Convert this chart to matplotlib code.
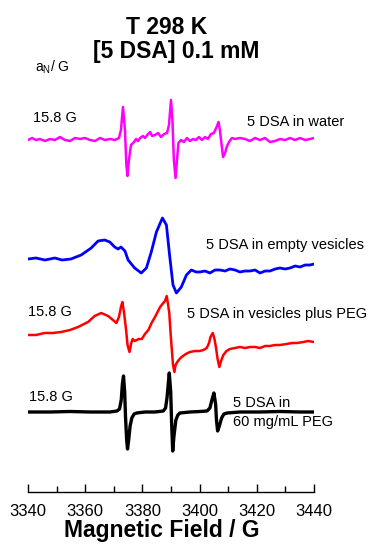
#EPR spectra of 5 DSA at 298 K

#Importing_Libraries
import numpy as np
import matplotlib
matplotlib.use('Agg')
import matplotlib.pyplot as plt

plt.rcParams['font.family'] = ['Liberation Sans', 'DejaVu Sans']
plt.rcParams['mathtext.fontset'] = 'custom'
plt.rcParams['mathtext.rm'] = 'Liberation Sans'

#Spectra (field in G, first-derivative signal in arbitrary units)
water_field = [3340.0, 3341.4, 3342.8, 3344.2, 3345.9, 3347.7, 3349.4, 3351.2, 3352.9, 3354.7,
               3356.4, 3358.2, 3359.9, 3361.7, 3363.4, 3365.2, 3366.9, 3368.7, 3370.4, 3371.8,
               3372.5, 3373.2, 3373.9, 3374.4, 3374.8, 3375.3, 3376.0, 3377.1, 3377.8, 3378.5,
               3379.2, 3380.2, 3380.9, 3382.0, 3382.7, 3383.4, 3384.4, 3385.5, 3386.5, 3387.6,
               3388.6, 3389.3, 3390.0, 3390.5, 3391.0, 3391.6, 3392.1, 3392.6, 3393.5, 3394.5,
               3395.6, 3396.6, 3397.7, 3398.7, 3399.8, 3400.8, 3401.9, 3402.9, 3404.0, 3405.0,
               3406.1, 3406.6, 3407.1, 3407.7, 3408.2, 3408.9, 3409.6, 3410.3, 3411.3, 3412.4,
               3414.1, 3415.9, 3417.6, 3419.4, 3421.1, 3422.9, 3424.6, 3426.4, 3428.1, 3429.9,
               3431.6, 3433.4, 3435.1, 3436.9, 3438.6, 3440.0]
water_signal = [-1, 1, -1, 0, -2, 0, -1, 2, -1, -2,
                1, 0, 1, -1, -2, 1, -1, 0, -1, 1,
                9, 32, 9, -26, -37, -21, -6, -3, 0, -2,
                1, 3, 1, 5, 7, 3, 4, 6, 2, 5,
                6, 14, 39, 19, -21, -39, -21, -4, -1, -3,
                1, -2, 0, -1, 2, -1, 2, 0, 5, 6,
                13, 17, 9, -6, -18, -14, -7, -3, 1, 0,
                1, 0, -2, 1, -1, 1, -3, -2, 0, -1,
                1, -1, 1, -1, 0, 1]

empty_field = [3340.0, 3342.8, 3345.9, 3349.4, 3351.9, 3355.0, 3358.6, 3362.1, 3364.5, 3366.8,
               3368.6, 3370.3, 3371.5, 3372.5, 3373.9, 3375.0, 3377.3, 3379.6, 3381.4, 3383.1,
               3384.9, 3387.0, 3388.4, 3389.5, 3390.7, 3391.9, 3393.6, 3395.4, 3397.1, 3398.8,
               3400.1, 3401.9, 3403.6, 3405.4, 3407.1, 3408.9, 3410.6, 3412.4, 3414.1, 3415.9,
               3417.6, 3419.4, 3421.1, 3422.9, 3424.6, 3426.4, 3428.1, 3429.9, 3431.6, 3433.4,
               3435.1, 3436.9, 3438.6, 3440.0]
empty_signal = [0, 1, -1, 1, -1, 0, 4, 11, 18, 19,
                17, 12, 10, 12, 8, -1, -9, -14, -9, 7,
                27, 41, 34, 4, -26, -34, -28, -16, -11, -13,
                -13, -12, -14, -11, -11, -12, -10, -11, -13, -12,
                -12, -11, -14, -12, -12, -10, -9, -10, -9, -7,
                -8, -6, -6, -5]

peg_field = [3340.0, 3342.8, 3345.8, 3348.7, 3351.6, 3354.7, 3357.5, 3361.0, 3363.3, 3365.6,
             3368.0, 3369.7, 3370.9, 3371.8, 3372.5, 3373.0, 3373.6, 3374.3, 3374.8, 3375.5,
             3376.1, 3376.6, 3377.3, 3378.0, 3378.8, 3379.8, 3380.9, 3382.1, 3383.2, 3384.4,
             3386.2, 3387.3, 3387.9, 3388.5, 3389.0, 3389.4, 3389.9, 3390.3, 3390.7, 3391.2,
             3391.6, 3392.2, 3393.0, 3393.7, 3395.2, 3396.6, 3398.4, 3400.1, 3401.3, 3402.5,
             3403.3, 3403.8, 3404.6, 3405.2, 3405.7, 3406.3, 3406.9, 3407.5, 3408.3, 3409.4,
             3410.6, 3412.4, 3414.1, 3415.9, 3417.6, 3419.4, 3421.1, 3422.9, 3424.6, 3426.4,
             3428.1, 3430.4, 3432.3, 3434.1, 3436.3, 3437.9, 3440.0]
peg_signal = [0, 0, 2, 2, 3, 5, 8, 13, 19, 22,
              19, 15, 12, 18, 28, 33, 22, 5, -10, -17,
              -8, -4, -6, -5, -4, -4, 1, 5, 12, 18,
              28, 32, 34, 39, 30, 22, 0, -15, -30, -37,
              -30, -27, -24, -22, -19, -17, -16, -16, -15, -13,
              -8, -2, 2, -4, -12, -24, -32, -26, -20, -16,
              -14, -13, -12, -13, -12, -12, -13, -11, -11, -10,
              -10, -9, -8, -8, -7, -6, -7]

sol_field = [3340.0, 3347.7, 3354.7, 3361.7, 3368.7, 3371.1, 3372.0, 3372.6, 3373.0, 3373.4,
             3373.8, 3374.1, 3374.5, 3374.8, 3375.2, 3375.7, 3376.3, 3377.1, 3378.0, 3380.9,
             3384.4, 3387.3, 3388.1, 3388.6, 3389.1, 3389.4, 3389.9, 3390.2, 3390.6, 3391.0,
             3391.7, 3392.4, 3393.1, 3396.6, 3400.1, 3402.6, 3403.6, 3404.3, 3405.0, 3405.6,
             3405.9, 3406.3, 3406.9, 3407.7, 3408.5, 3409.6, 3414.1, 3421.1, 3428.1, 3435.1,
             3440.0]
sol_signal = [0, 0, 0.5, 0, 0, 1, 3, 12, 28, 36,
              20, -5, -28, -37, -28, -14, -6, -2, -1, 0,
              0, 1, 4, 14, 30, 39, 20, -10, -39, -25,
              -8, -3, -1, 0, 0.5, 1, 4, 12, 19, 8,
              -8, -19, -14, -6, -2, -1, 0, 0, 0.5, 0,
              0]

x_ticks = [3340, 3360, 3380, 3400, 3420, 3440]

#Vertical offsets of the stacked traces
off_water = 353
off_empty = 233
off_peg = 157
off_sol = 80

fig = plt.figure(figsize=(3.70, 5.45), dpi=100)
ax = fig.add_axes([28/370, 53/545, 286/370, 402/545])

ax.plot(water_field, np.array(water_signal) + off_water, color='#ff00ff', lw=1.8)
ax.plot(empty_field, np.array(empty_signal) + off_empty, color='#0000ff', lw=2.0)
ax.plot(peg_field, np.array(peg_signal) + off_peg, color='#ff0000', lw=1.8)
ax.plot(sol_field, np.array(sol_signal) + off_sol, color='black', lw=2.4)

ax.set_xlim(3340, 3440)
ax.set_ylim(0, 402)
ax.set_xticks(x_ticks)
ax.set_xticks(np.arange(3340, 3441, 10), minor=True)
ax.tick_params(axis='x', which='major', direction='in', length=6, width=1, labelsize=12, pad=9)
ax.tick_params(axis='x', which='minor', direction='in', length=4, width=1)
ax.set_yticks([])
for s in ['top', 'right', 'left']:
    ax.spines[s].set_visible(False)
ax.spines['bottom'].set_linewidth(1)

#Labels
fig.text(167/370, 1 - 27/545, 'T 298 K', ha='center', va='center', fontsize=16.5, fontweight='bold')
fig.text(176/370, 1 - 51/545, '[5 DSA] 0.1 mM', ha='center', va='center', fontsize=16.5, fontweight='bold')
fig.text(35/370, 1 - 67/545, r'a$_\mathregular{N}$/ G', ha='left', va='center', fontsize=10)
fig.text(162/370, 1 - 531/545, 'Magnetic Field / G', ha='center', va='center', fontsize=16.5, fontweight='bold')

ax.text(3341.7, off_water + 21, '15.8 G', fontsize=10.5, va='center')
ax.text(3340.0, off_peg + 23, '15.8 G', fontsize=10.5, va='center')
ax.text(3340.4, off_sol + 15, '15.8 G', fontsize=10.5, va='center')

ax.text(3416.5, off_water + 17, '5 DSA in water', fontsize=10.5, va='center', clip_on=False)
ax.text(3402.2, off_empty + 14, '5 DSA in empty vesicles', fontsize=10.5, va='center', clip_on=False)
ax.text(3395.6, off_peg + 21, '5 DSA in vesicles plus PEG', fontsize=10.5, va='center', clip_on=False)
ax.text(3411.7, off_sol + 9, '5 DSA in', fontsize=10.5, va='center')
ax.text(3411.7, off_sol - 10, '60 mg/mL PEG', fontsize=10.5, va='center')

plt.savefig('out.png', dpi=100)
